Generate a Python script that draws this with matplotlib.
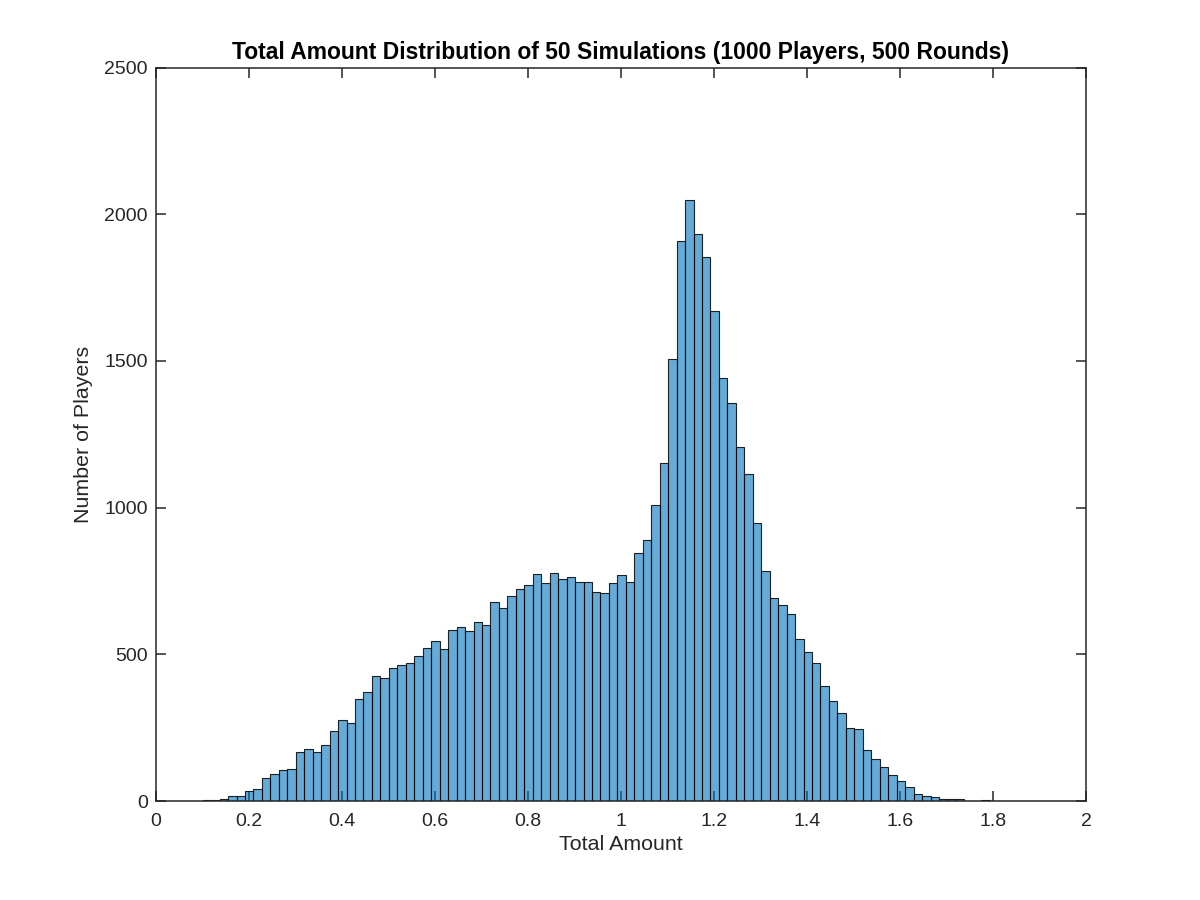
import matplotlib
matplotlib.use("Agg")
import matplotlib.pyplot as plt
from matplotlib.ticker import FuncFormatter
import numpy as np

# Histogram data: 100 bins of equal width
bin_start = 0.1004
bin_width = 0.0182
counts = [
    2, 2, 6, 16, 16, 35, 41, 78, 91, 107,
    108, 166, 177, 166, 191, 238, 275, 267, 349, 371,
    426, 420, 453, 463, 469, 493, 522, 544, 519, 583,
    592, 580, 609, 600, 677, 658, 698, 721, 736, 773,
    742, 777, 756, 763, 745, 748, 714, 708, 742, 770,
    748, 844, 889, 1008, 1153, 1505, 1908, 2049, 1934, 1855,
    1670, 1443, 1357, 1206, 1115, 946, 784, 691, 669, 639,
    552, 509, 470, 392, 342, 301, 250, 244, 175, 143,
    115, 90, 68, 49, 25, 18, 12, 8, 6, 7,
    1, 1, 3, 1, 1, 0, 1, 0, 0, 1,
]
x_ticks = [0, 0.2, 0.4, 0.6, 0.8, 1.0, 1.2, 1.4, 1.6, 1.8, 2.0]
y_ticks = [0, 500, 1000, 1500, 2000, 2500]

plt.rcParams['font.family'] = ['Liberation Sans', 'DejaVu Sans']
axis_color = '#262626'

fig = plt.figure(figsize=(12, 9), dpi=100)
ax = fig.add_axes([0.13, 0.11, 0.775, 0.815])

edges = bin_start + bin_width * np.arange(len(counts) + 1)
ax.hist(edges[:-1], bins=edges, weights=counts,
        color=(0.0, 0.447, 0.741), edgecolor='black', linewidth=0.8)
# MATLAB style: translucent face, near-black edges
for p in ax.patches:
    p.set_facecolor((0.0, 0.447, 0.741, 0.6))
    p.set_edgecolor((0.0, 0.0, 0.0, 0.85))

ax.set_axisbelow(True)
ax.set_xlim(0, 2)
ax.set_ylim(0, 2500)
ax.set_xticks(x_ticks)
ax.set_yticks(y_ticks)
ax.xaxis.set_major_formatter(FuncFormatter(lambda v, pos: '%g' % v))

ax.tick_params(direction='in', length=7, width=1.1, colors=axis_color,
               labelsize=14, top=True, right=True)
ax.tick_params(axis='x', pad=9)
ax.tick_params(axis='y', pad=6)
for s in ax.spines.values():
    s.set_linewidth(1.1)
    s.set_color(axis_color)

ax.set_xlabel('Total Amount', fontsize=15.4, color=axis_color, labelpad=3)
ax.set_ylabel('Number of Players', fontsize=15.4, color=axis_color, labelpad=8)
ax.set_title('Total Amount Distribution of 50 Simulations (1000 Players, 500 Rounds)',
             fontsize=16.5, fontweight='bold', color='black', pad=6)

fig.savefig('out.png', dpi=100)
